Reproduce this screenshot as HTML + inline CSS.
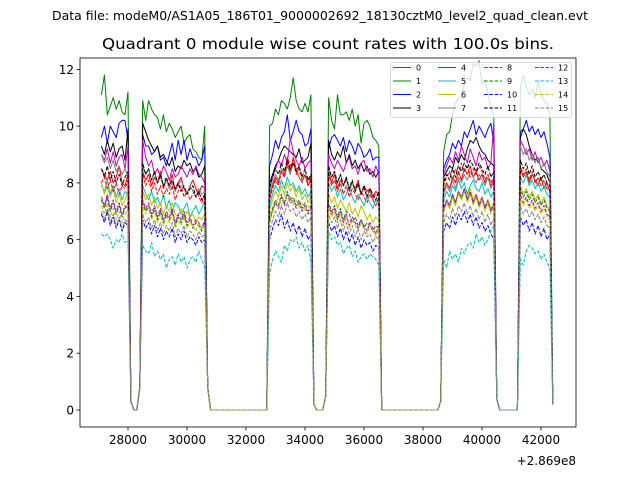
<!DOCTYPE html>
<html><head><meta charset="utf-8"><style>
html,body{margin:0;padding:0;background:#fff;}
svg{display:block;font-family:"DejaVu Sans","Liberation Sans",sans-serif;}
</style></head><body>
<svg id="chart" width="640" height="480" viewBox="0 0 640 480" xmlns="http://www.w3.org/2000/svg">
<rect width="640" height="480" fill="#fff"/>
<text x="320" y="20" font-size="12.4" text-anchor="middle" textLength="536" lengthAdjust="spacingAndGlyphs">Data file: modeM0/AS1A05_186T01_9000002692_18130cztM0_level2_quad_clean.evt</text>
<text x="328" y="49" font-size="15.5" text-anchor="middle" textLength="452" lengthAdjust="spacingAndGlyphs">Quadrant 0 module wise count rates with 100.0s bins.</text>
<g id="plot"></g>
<g id="axes"></g>
<g id="legend"></g>
</svg>
<script>
const xTicks=[28000,30000,32000,34000,36000,38000,40000,42000];
const yTicks=[0,2,4,6,8,10,12];
const offsetLabel="+2.869e8";
const seriesNames=["0","1","2","3","4","5","6","7","8","9","10","11","12","13","14","15"];
const Z="0,0,0,0,0,0,0,0,0,0,0,0,0,0,0,0,0,0,0,0";
function parse(s){return s.split(",").map(Number);}
const timeStart=27100, binSize=100;
const s0=parse("8.5,8.3,8.1,8.4,8.0,8.2,8.6,8.0,7.9,8.3,0.3,0,0,0.8,8.4,8.1,8.3,7.9,8.2,8.0,8.4,7.8,8.1,7.9,8.3,7.7,8.0,8.2,7.8,7.6,7.9,8.1,7.8,7.6,7.9,7.8,0.8,"+Z+",7.5,7.9,8.2,8.0,8.5,8.3,8.7,8.4,8.9,8.5,8.2,8.0,8.3,7.9,8.1,0.2,0,0,0,0.5,8.4,8.0,8.3,7.8,8.1,7.9,8.2,7.7,8.0,7.8,8.1,7.6,7.9,7.7,7.8,7.5,7.7,7.6,"+Z+",0.3,7.7,8.0,7.8,8.2,8.0,8.4,8.1,8.5,8.3,8.6,8.2,8.4,8.1,8.3,8.0,8.2,7.9,8.1,0.4,0,0,0,0,0,0,0,8.5,8.2,8.4,8.0,8.3,8.1,7.9,8.2,7.8,8.0,7.7,0.2");
const s1=parse("11.1,11.8,10.4,10.7,11.0,10.6,10.9,10.5,10.4,11.2,0.3,0,0,0.8,10.9,10.2,10.9,10.6,10.4,10.3,9.9,10.4,9.8,10.1,9.9,9.6,9.8,10.0,9.4,9.6,9.7,9.2,9.1,8.9,8.8,10.0,0.8,"+Z+",10.0,10.1,10.6,10.4,10.9,10.8,10.6,11.0,11.7,10.9,10.6,10.5,10.8,10.5,11.1,0.2,0,0,0,0.5,11.0,10.2,9.9,11.1,10.4,10.4,10.5,10.2,10.6,10.0,10.4,9.4,10.1,10.2,10.0,9.6,9.5,9.3,"+Z+",0.3,9.1,9.7,9.8,10.4,10.8,11.0,11.0,11.5,11.7,11.6,12.2,12.1,12.3,11.5,11.6,11.2,10.6,10.4,0.4,0,0,0,0,0,0,0,11.4,11.8,11.4,11.1,11.3,11.0,11.6,11.1,10.9,10.8,10.4,0.2");
const s2=parse("9.6,10.0,9.4,10.0,9.8,9.6,10.1,10.2,10.2,9.5,0.3,0,0,0.8,9.7,9.3,9.3,9.0,9.1,9.3,8.8,8.9,8.6,9.0,9.4,8.8,9.5,9.0,9.5,8.8,9.2,8.9,8.9,8.6,8.8,9.3,0.8,"+Z+",8.6,9.0,9.5,9.2,9.6,9.8,10.4,9.5,9.8,10.2,9.8,9.7,9.3,9.4,9.9,0.2,0,0,0,0.5,9.2,9.6,9.7,9.5,9.3,9.6,9.1,9.5,9.3,9.0,9.4,9.2,8.9,9.0,9.2,8.8,8.9,8.9,"+Z+",0.3,8.5,8.8,9.0,9.4,9.2,9.5,9.3,9.8,9.6,9.9,10.2,9.7,10.0,9.8,9.6,9.9,10.1,9.4,0.4,0,0,0,0,0,0,0,9.8,9.9,10.2,9.8,10.0,9.7,9.9,9.6,9.8,9.4,8.9,0.2");
const s3=parse("9.3,9.0,9.5,9.1,9.4,8.9,9.2,9.3,8.8,9.9,0.3,0,0,0.8,10.1,9.8,9.5,9.3,9.1,9.3,8.9,9.0,8.8,8.6,8.9,8.4,8.6,8.5,8.8,8.6,8.7,8.4,8.5,8.2,8.3,8.6,0.8,"+Z+",8.0,8.3,8.6,8.8,9.1,9.3,9.2,9.1,9.0,8.9,9.2,8.7,8.8,8.9,9.4,0.2,0,0,0,0.5,9.5,9.0,8.8,9.1,8.9,9.3,8.7,9.0,8.6,8.8,8.5,8.7,8.4,8.6,8.3,8.4,8.2,8.4,"+Z+",0.3,8.2,8.4,8.6,8.5,8.9,8.7,9.0,8.8,9.2,9.5,9.4,9.6,9.3,9.1,9.0,8.8,8.7,8.6,0.4,0,0,0,0,0,0,0,9.6,9.9,9.7,9.3,9.0,8.8,8.9,8.5,8.4,8.3,8.0,0.2");
const s4=parse("9.0,8.8,9.2,8.7,9.1,8.6,8.9,9.0,8.5,9.3,0.3,0,0,0.8,9.5,8.9,8.6,8.8,8.3,8.5,8.2,8.6,8.4,8.1,8.5,8.2,8.3,8.6,8.4,8.2,8.5,8.3,8.6,8.3,8.2,8.0,0.8,"+Z+",7.8,8.2,8.5,8.8,8.6,9.0,8.7,9.6,9.1,8.8,8.6,8.9,8.5,8.7,8.8,0.2,0,0,0,0.5,9.0,8.7,8.5,8.8,8.6,8.4,8.7,8.9,8.5,8.6,8.3,8.7,8.8,8.4,8.5,8.2,8.6,8.3,"+Z+",0.3,8.3,8.6,8.9,8.7,9.1,8.8,9.3,9.0,8.7,9.2,8.9,8.6,9.1,8.8,8.9,8.5,8.7,10.1,0.4,0,0,0,0,0,0,0,9.5,9.3,9.0,9.2,8.8,9.1,8.7,8.9,8.6,8.8,8.4,0.2");
const s5=parse("7.9,7.7,8.1,7.6,7.9,7.5,7.8,7.4,7.7,7.6,0.3,0,0,0.8,7.9,7.6,7.4,7.7,7.3,7.5,7.2,7.6,7.1,7.4,7.0,7.3,7.2,6.9,7.1,7.3,6.8,7.0,7.2,6.9,7.1,7.4,0.8,"+Z+",7.2,7.6,7.9,7.7,8.1,7.8,8.2,7.9,8.0,7.7,7.9,7.6,7.8,7.5,7.7,0.2,0,0,0,0.5,8.0,7.7,7.9,7.5,7.8,7.4,7.6,7.9,7.5,7.3,7.6,7.4,7.2,7.5,7.3,7.1,7.4,7.2,"+Z+",0.3,7.4,7.7,7.5,7.9,7.7,8.1,7.8,8.0,7.6,7.9,8.1,7.8,7.7,8.0,7.6,7.8,7.5,7.7,0.4,0,0,0,0,0,0,0,8.2,8.0,8.3,7.9,8.1,7.8,8.0,7.7,7.9,7.6,7.5,0.2");
const s6=parse("8.0,7.6,7.9,7.5,7.8,7.3,7.6,7.2,7.4,7.7,0.3,0,0,0.8,7.7,7.4,7.6,7.2,7.5,7.1,7.3,6.9,7.2,7.0,7.3,6.9,6.8,7.1,6.7,7.0,6.8,6.9,6.6,6.8,6.7,6.9,0.8,"+Z+",7.0,7.4,7.7,7.5,7.9,7.6,8.0,7.7,7.9,7.5,7.8,7.4,7.6,7.3,7.5,0.2,0,0,0,0.5,7.6,7.3,7.5,7.1,7.4,7.2,7.0,7.3,6.9,7.1,6.8,7.2,7.0,6.7,6.9,6.6,6.8,6.7,"+Z+",0.3,7.0,7.3,7.1,7.5,7.2,7.6,7.4,7.7,7.5,7.8,7.4,7.6,7.3,7.5,7.2,7.4,7.1,7.3,0.4,0,0,0,0,0,0,0,7.9,7.6,7.8,7.5,7.7,7.4,7.6,7.3,7.5,7.2,7.0,0.2");
const s7=parse("9.0,8.7,8.9,8.5,8.8,8.4,8.6,8.3,8.5,8.2,0.3,0,0,0.8,8.6,8.3,8.5,8.1,8.4,8.0,8.2,7.9,8.1,7.8,8.0,7.7,7.9,8.1,7.8,7.6,7.9,7.7,7.5,7.8,7.6,7.7,0.8,"+Z+",7.6,8.0,8.3,8.1,8.5,8.2,8.6,8.3,8.7,8.4,8.2,8.0,8.3,8.1,8.2,0.2,0,0,0,0.5,8.5,8.2,8.4,8.0,8.3,7.9,8.1,7.8,8.0,7.7,7.9,7.6,7.8,7.5,7.7,7.4,7.6,7.5,"+Z+",0.3,7.6,7.9,7.7,8.1,7.8,8.2,8.0,8.3,8.1,8.4,8.2,8.0,8.3,8.1,7.9,8.2,7.8,8.0,0.4,0,0,0,0,0,0,0,9.3,9.0,9.2,8.8,9.0,8.7,8.9,8.5,8.7,8.4,8.2,0.2");
const s8=parse("8.0,8.2,7.8,8.1,7.7,8.0,7.6,7.9,7.8,8.1,0.3,0,0,0.8,8.3,7.9,8.1,7.7,8.0,7.6,7.9,7.5,7.8,7.6,7.9,7.4,7.7,7.9,7.5,7.7,7.4,7.6,7.8,7.5,7.3,7.6,0.8,"+Z+",7.4,7.8,8.1,7.9,8.4,8.2,8.9,8.6,8.8,8.3,8.5,8.1,8.3,8.0,8.2,0.2,0,0,0,0.5,8.3,7.9,8.1,7.7,8.0,7.6,7.9,7.5,7.8,7.6,7.4,7.7,7.5,7.3,7.6,7.4,7.2,7.5,"+Z+",0.3,7.9,8.2,8.4,8.1,8.5,8.3,8.7,8.4,8.6,8.2,8.5,8.3,8.6,8.4,8.1,8.3,8.0,8.2,0.4,0,0,0,0,0,0,0,8.6,8.3,8.5,8.1,8.4,8.0,8.2,7.9,8.1,7.8,7.7,0.2");
const s9=parse("7.4,7.1,7.5,7.0,7.3,6.9,7.2,6.8,7.1,7.3,0.3,0,0,0.8,7.3,7.0,7.2,6.8,7.1,6.7,7.0,6.6,6.9,6.7,7.0,6.5,6.8,6.6,6.9,6.5,6.7,6.4,6.6,6.5,6.3,6.6,0.8,"+Z+",6.8,7.1,7.4,7.2,7.6,7.3,7.7,7.4,7.5,7.2,7.4,7.1,7.3,7.0,7.2,0.2,0,0,0,0.5,7.3,7.0,7.2,6.8,7.1,6.7,7.0,6.9,6.6,6.8,6.5,6.7,6.4,6.6,6.5,6.3,6.5,6.4,"+Z+",0.3,7.0,7.4,7.2,7.6,7.3,7.7,7.5,7.8,7.4,7.6,7.3,7.5,7.2,7.4,7.1,7.3,7.0,7.2,0.4,0,0,0,0,0,0,0,7.8,7.5,7.7,7.4,7.6,7.3,7.5,7.2,7.4,7.1,7.0,0.2");
const s10=parse("6.9,6.6,7.0,6.5,6.8,6.4,6.7,6.3,6.6,6.5,0.3,0,0,0.8,6.7,6.4,6.6,6.2,6.5,6.1,6.4,6.0,6.3,6.1,6.4,5.9,6.2,6.0,6.3,5.9,6.1,6.0,5.8,6.1,5.9,6.0,0.8,"+Z+",6.0,6.4,6.7,6.5,6.9,6.4,6.7,6.3,6.6,6.2,6.5,6.1,6.4,6.0,6.2,0.2,0,0,0,0.5,6.6,6.3,6.5,6.1,6.4,6.0,6.3,5.9,6.2,5.8,6.1,5.7,6.0,5.8,5.9,5.6,5.8,5.7,"+Z+",0.3,6.3,6.6,6.4,6.8,6.5,6.9,6.7,7.0,6.6,6.9,6.5,6.8,6.4,6.6,6.3,6.5,6.2,6.0,0.4,0,0,0,0,0,0,0,6.8,6.5,6.7,6.3,6.6,6.2,6.5,6.1,6.4,6.0,6.2,0.2");
const s11=parse("8.5,8.2,8.6,8.1,8.4,8.0,8.3,7.9,8.2,8.4,0.3,0,0,0.8,8.7,8.3,8.5,8.1,8.4,8.0,8.3,7.9,8.2,7.9,8.1,7.8,8.0,7.7,7.9,7.6,7.8,7.9,7.5,7.7,7.4,7.6,0.8,"+Z+",7.8,8.2,8.5,8.3,8.7,8.4,8.8,8.5,8.7,8.4,8.6,8.2,8.5,8.1,8.3,0.2,0,0,0,0.5,8.6,8.2,8.4,8.0,8.3,7.9,8.2,7.8,8.1,7.7,8.0,7.6,7.9,7.5,7.8,7.6,7.4,7.7,"+Z+",0.3,8.0,8.3,8.1,8.5,8.2,8.6,8.4,8.7,8.5,8.8,8.6,8.4,8.7,8.5,8.3,8.6,8.2,8.4,0.4,0,0,0,0,0,0,0,8.8,8.5,8.7,8.3,8.6,8.2,8.4,8.1,8.3,8.0,7.9,0.2");
const s12=parse("7.5,7.2,7.6,7.1,7.4,7.0,7.3,6.9,7.2,7.1,0.3,0,0,0.8,7.4,7.1,7.3,6.9,7.2,6.8,7.1,6.7,7.0,6.8,7.1,6.6,6.9,6.7,7.0,6.6,6.8,6.5,6.7,6.6,6.4,6.7,0.8,"+Z+",6.6,7.0,7.3,7.1,7.5,7.2,7.6,7.3,7.4,7.1,7.3,7.0,7.2,6.9,7.1,0.2,0,0,0,0.5,7.2,6.9,7.1,6.7,7.0,6.6,6.9,6.5,6.8,6.6,6.4,6.7,6.5,6.3,6.6,6.4,6.2,6.5,"+Z+",0.3,7.1,7.4,7.2,7.6,7.3,7.7,7.5,7.8,7.4,7.7,7.3,7.6,7.2,7.5,7.1,7.4,7.0,7.3,0.4,0,0,0,0,0,0,0,7.6,7.3,7.5,7.2,7.4,7.1,7.3,7.0,7.2,6.9,6.8,0.2");
const s13=parse("6.2,6.1,6.2,6.0,5.7,6.0,5.9,6.2,5.9,6.0,0.3,0,0,0.8,5.8,5.6,5.5,5.9,5.4,5.6,5.3,5.5,5.0,5.3,5.4,5.1,5.5,5.2,5.4,5.0,5.3,5.4,5.2,5.6,5.3,5.0,0.8,"+Z+",4.8,5.3,5.6,5.4,5.2,5.8,5.6,6.0,5.9,6.1,5.7,5.9,5.6,5.8,5.2,0.2,0,0,0,0.5,6.3,6.0,6.1,5.8,5.9,5.5,5.7,5.8,5.4,5.6,5.2,5.4,5.5,5.3,5.5,5.4,5.3,5.1,"+Z+",0.3,5.3,5.0,5.6,5.3,5.5,5.2,5.7,5.5,5.8,5.9,5.7,6.2,5.9,6.1,5.8,6.0,6.3,6.5,0.4,0,0,0,0,0,0,0,5.3,5.1,5.6,5.8,5.7,5.5,5.6,5.3,5.5,5.2,5.0,0.2");
const s14=parse("7.2,6.9,7.3,6.8,7.1,6.7,7.0,6.6,6.9,7.0,0.3,0,0,0.8,7.2,6.9,7.1,6.7,7.0,6.6,6.9,6.5,6.8,6.6,6.9,6.4,6.7,6.5,6.8,6.4,6.6,6.5,6.3,6.6,6.4,6.5,0.8,"+Z+",6.6,7.0,7.3,7.5,7.2,7.6,7.3,7.5,7.2,7.4,7.1,7.3,7.0,7.2,7.1,0.2,0,0,0,0.5,7.1,6.8,7.0,6.6,6.9,6.5,6.8,6.4,6.7,6.5,6.3,6.6,6.4,6.2,6.5,6.3,6.1,6.4,"+Z+",0.3,7.0,7.3,7.1,7.5,7.2,7.6,7.4,7.7,7.3,7.6,7.2,7.5,7.1,7.4,7.0,7.3,6.9,7.2,0.4,0,0,0,0,0,0,0,7.5,7.2,7.4,7.1,7.3,7.0,7.2,6.9,7.1,6.8,6.7,0.2");
const s15=parse("7.0,6.7,7.1,6.6,6.9,6.5,6.8,6.4,6.7,6.6,0.3,0,0,0.8,6.9,6.6,6.8,6.4,6.7,6.3,6.6,6.2,6.5,6.3,6.6,6.1,6.4,6.2,6.5,6.1,6.3,6.2,6.0,6.3,6.1,6.2,0.8,"+Z+",6.3,6.7,7.0,6.8,7.2,6.9,7.3,7.0,7.1,6.8,7.0,6.7,6.9,6.6,6.8,0.2,0,0,0,0.5,6.9,6.6,6.8,6.4,6.7,6.3,6.6,6.2,6.5,6.1,6.4,6.0,6.3,6.1,6.2,5.9,6.1,6.0,"+Z+",0.3,6.6,6.9,6.7,7.1,6.8,7.2,7.0,7.3,6.9,7.2,6.8,7.1,6.7,7.0,6.6,6.9,6.5,6.8,0.4,0,0,0,0,0,0,0,7.2,6.9,7.1,6.8,7.0,6.7,6.9,6.6,6.8,6.5,6.4,0.2");
const seriesValues=[s0,s1,s2,s3,s4,s5,s6,s7,s8,s9,s10,s11,s12,s13,s14,s15];

const colors=["#ff0000","#008000","#0000ff","#000000","#bf00bf","#00bfbf","#bfbf00","#808080"];
const NS="http://www.w3.org/2000/svg";
const L=80,R=576,T=58,B=427;
const xMin=26373,xMax=43186,yMin=-0.6,yMax=12.4;
function xs(v){return L+(v-xMin)/(xMax-xMin)*(R-L);}
function ys(v){return B-(v-yMin)/(yMax-yMin)*(B-T);}
function mk(tag,attrs,parent){const e=document.createElementNS(NS,tag);for(const k in attrs)e.setAttribute(k,attrs[k]);parent.appendChild(e);return e;}

const plot=document.getElementById('plot');
const cp=mk('clipPath',{id:'clip'},plot);
mk('rect',{x:L,y:T,width:R-L,height:B-T},cp);
const lg=mk('g',{'clip-path':'url(#clip)'},plot);
seriesValues.forEach((vals,si)=>{
  const pts=vals.map((v,i)=>xs(timeStart+i*binSize).toFixed(1)+','+ys(v).toFixed(1)).join(' ');
  const p=mk('polyline',{points:pts,fill:'none',stroke:colors[si%8],'stroke-width':1,'stroke-linejoin':'round'},lg);
  if(si>=8)p.setAttribute('stroke-dasharray','3.7,1.6');
  
  
});

const ax=document.getElementById('axes');
const frame=mk('rect',{x:L,y:T,width:R-L,height:B-T,fill:'none',stroke:'#000','stroke-width':0.8},ax);


xTicks.forEach(t=>{
  const x=xs(t);
  mk('line',{x1:x,x2:x,y1:B,y2:B+3.5,stroke:'#000','stroke-width':0.8},ax);
  const tx=mk('text',{x:x,y:B+17,'font-size':'12','text-anchor':'middle'},ax);
  tx.textContent=t;
  
  
});
yTicks.forEach(t=>{
  const y=ys(t);
  mk('line',{x1:L-3.5,x2:L,y1:y,y2:y,stroke:'#000','stroke-width':0.8},ax);
  const tx=mk('text',{x:L-6,y:y+4.5,'font-size':'12','text-anchor':'end'},ax);
  tx.textContent=t;
  
  
});
const off=mk('text',{x:R,y:B+38,'font-size':'12','text-anchor':'end'},ax);
off.textContent=offsetLabel;



const leg=document.getElementById('legend');
const box=mk('rect',{x:390.5,y:62.5,width:181,height:55,rx:2,fill:'#fff','fill-opacity':0.8,stroke:'#cccccc','stroke-width':0.8},leg);


const colX=[393,438,484,535], rowY=[67.5,81,94.5,108];
seriesNames.forEach((n,si)=>{
  const c=Math.floor(si/4), r=si%4;
  const g=mk('g',{},leg);
  
  
  const ln=mk('line',{x1:colX[c],x2:colX[c]+18,y1:rowY[r],y2:rowY[r],stroke:colors[si%8],'stroke-width':1},g);
  if(si>=8)ln.setAttribute('stroke-dasharray','3.7,1.6');
  const tx=mk('text',{x:colX[c]+23,y:rowY[r]+3,'font-size':'8'},g);
  tx.textContent=n;
});
</script>
</body></html>
